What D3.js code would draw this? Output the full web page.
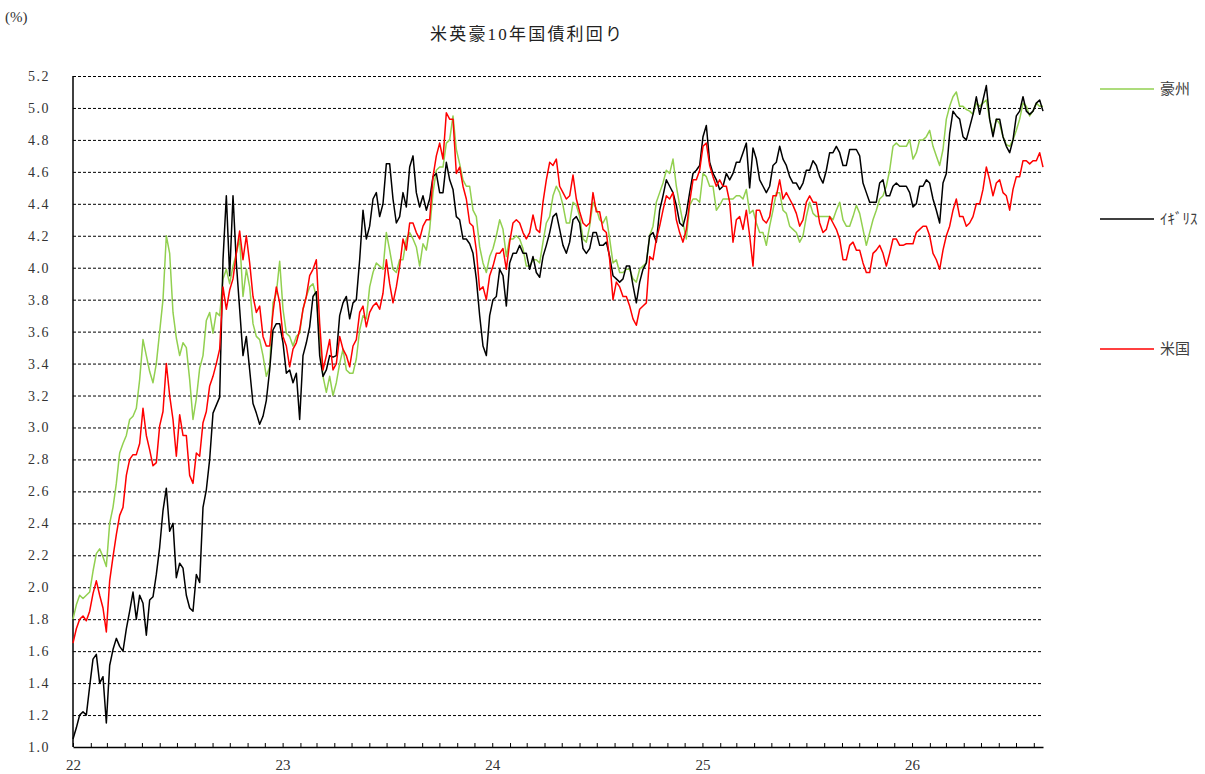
<html>
<head>
  <meta charset="utf-8">
  <script src="https://d3js.org/d3.v7.min.js"></script>
  <style>
    body { margin: 0; background: #fff; }
    text { font-family: "Liberation Serif", "Noto Sans CJK JP", serif; }
  </style>
  <script>
    // sampled about every 5.8 days, 2022-01-01 .. 2026-08-17
    var auYield = [
      1.80,1.89,1.95,1.93,1.95,1.97,2.10,2.21,2.24,2.19, 2.13,2.40,2.50,2.65,2.84,2.90,2.95,3.05,3.07,3.12,
      3.30,3.55,3.45,3.35,3.28,3.40,3.60,3.80,4.20,4.09, 3.72,3.56,3.45,3.53,3.50,3.30,3.05,3.18,3.37,3.45,
      3.67,
      3.72,3.59,3.72,3.70,3.93,3.99,3.90,4.01,4.09,4.18, 3.82,3.99,3.88,3.65,3.57,3.55,3.45,3.32,3.38,3.78,
      3.84,4.04,3.74,3.59,3.57,3.51,3.57,3.59,3.74,3.82, 3.88,3.90,3.82,3.57,3.32,3.22,3.32,3.20,3.28,3.40,
      3.49,3.36,
      3.34,3.34,3.43,3.61,3.70,3.68,3.88,3.97,4.03,4.01, 3.99,4.22,4.11,3.99,3.97,4.05,4.05,4.18,4.22,4.18,
      4.13,4.01,4.15,4.11,4.24,4.47,4.61,4.63,4.63,4.78, 4.80,4.95,4.74,4.65,4.55,4.51,4.51,4.36,4.32,4.13,
      4.03,3.97,
      4.07,4.12,4.20,4.30,4.24,4.07,4.18,4.18,4.20,4.18, 4.12,4.01,4.01,4.05,4.05,4.03,4.16,4.28,4.32,4.45,
      4.51,4.47,4.39,4.28,4.28,4.41,4.39,4.32,4.18,4.16, 4.26,4.41,4.37,4.30,4.28,4.32,4.18,4.03,4.05,3.97,
      3.97,3.99,
      3.99,3.93,3.91,3.99,4.01,4.03,4.20,4.26,4.41,4.47, 4.53,4.61,4.59,4.68,4.51,4.39,4.28,4.18,4.39,4.43,
      4.43,4.41,4.59,4.57,4.51,4.51,4.36,4.39,4.43,4.43, 4.43,4.43,4.45,4.45,4.43,4.49,4.34,4.36,4.28,4.22,
      4.22,4.14,
      4.26,4.36,4.47,4.47,4.36,4.34,4.26,4.24,4.22,4.16, 4.20,4.32,4.41,4.34,4.32,4.32,4.32,4.32,4.32,4.30,
      4.36,4.41,4.30,4.26,4.26,4.32,4.39,4.34,4.24,4.14, 4.22,4.30,4.36,4.43,4.45,4.51,4.61,4.76,4.78,4.76,
      4.76,
      4.76,4.80,4.68,4.72,4.80,4.80,4.82,4.86,4.76,4.70, 4.64,4.74,4.93,5.01,5.07,5.10,5.01,5.01,4.99,4.98,
      4.96,5.03,5.01,5.03,5.05,4.93,4.84,4.93,4.90,4.82, 4.77,4.76,4.80,4.86,4.93,5.03,5.01,4.95,4.98,5.03,
      5.01,5.01
    ];
    var ukYield = [
      1.05,1.12,1.20,1.22,1.20,1.38,1.55,1.58,1.40,1.44, 1.15,1.51,1.61,1.68,1.63,1.60,1.74,1.85,1.97,1.80,
      1.95,1.90,1.70,1.92,1.94,2.08,2.25,2.48,2.62,2.35, 2.40,2.06,2.15,2.12,1.95,1.87,1.85,2.08,2.03,2.50,
      2.61,
      2.80,3.09,3.14,3.19,4.05,4.45,3.95,4.45,4.03,3.74, 3.45,3.57,3.36,3.15,3.09,3.02,3.07,3.17,3.36,3.61,
      3.65,3.65,3.53,3.34,3.36,3.28,3.34,3.05,3.45,3.53, 3.63,3.82,3.85,3.45,3.32,3.36,3.45,3.44,3.45,3.70,
      3.78,3.82,
      3.68,3.78,3.80,4.05,4.36,4.18,4.26,4.43,4.47,4.32, 4.40,4.65,4.65,4.43,4.28,4.32,4.47,4.38,4.63,4.70,
      4.47,4.38,4.45,4.36,4.43,4.57,4.59,4.47,4.47,4.66, 4.55,4.49,4.32,4.30,4.18,4.18,4.15,4.09,3.93,3.70,
      3.51,3.45,
      3.70,3.80,3.82,3.99,3.95,3.76,4.03,4.09,4.09,4.14, 4.09,4.09,3.99,4.07,3.97,3.94,4.07,4.14,4.22,4.32,
      4.34,4.24,4.14,4.09,4.16,4.30,4.32,4.28,4.12,4.09, 4.12,4.22,4.22,4.14,4.14,4.16,4.07,3.95,3.93,3.91,
      3.93,4.01,
      4.01,3.89,3.78,3.91,3.99,4.03,4.20,4.22,4.16,4.36, 4.45,4.55,4.51,4.47,4.39,4.28,4.26,4.34,4.47,4.59,
      4.61,4.64,4.82,4.89,4.66,4.59,4.55,4.49,4.51,4.59, 4.55,4.59,4.66,4.66,4.72,4.78,4.50,4.75,4.68,4.55,
      4.51,4.47,
      4.51,4.64,4.66,4.76,4.68,4.64,4.57,4.53,4.53,4.49, 4.53,4.61,4.61,4.67,4.64,4.57,4.53,4.61,4.72,4.72,
      4.76,4.72,4.64,4.64,4.74,4.74,4.74,4.70,4.53,4.47, 4.41,4.41,4.41,4.53,4.55,4.45,4.45,4.51,4.53,4.51,
      4.51,
      4.51,4.47,4.38,4.40,4.51,4.51,4.55,4.53,4.43,4.36, 4.28,4.53,4.59,4.84,4.98,4.95,4.93,4.82,4.80,4.88,
      4.96,5.07,4.96,5.05,5.14,4.93,4.82,4.93,4.93,4.82, 4.76,4.72,4.80,4.95,4.98,5.07,4.98,4.96,4.98,5.03,
      5.05,4.98
    ];
    var usYield = [
      1.65,1.74,1.80,1.82,1.79,1.85,1.96,2.04,1.95,1.87, 1.72,2.04,2.19,2.33,2.45,2.50,2.70,2.80,2.83,2.83,
      2.90,3.12,2.95,2.86,2.76,2.78,3.01,3.10,3.40,3.20, 3.05,2.82,3.08,2.95,2.95,2.70,2.65,2.84,2.82,3.03,
      3.10,
      3.26,3.32,3.40,3.49,3.88,3.74,3.86,3.93,4.09,4.23, 4.05,4.20,4.03,3.82,3.72,3.76,3.57,3.51,3.51,3.72,
      3.88,3.78,3.57,3.51,3.38,3.49,3.53,3.61,3.74,3.82, 3.95,3.99,4.05,3.65,3.36,3.45,3.55,3.36,3.40,3.57,
      3.49,3.45,
      3.38,3.51,3.55,3.72,3.76,3.63,3.72,3.76,3.78,3.74, 3.84,4.05,3.90,3.78,3.88,4.01,4.18,4.11,4.28,4.28,
      4.22,4.18,4.26,4.30,4.30,4.57,4.70,4.78,4.68,4.97, 4.93,4.93,4.59,4.63,4.51,4.43,4.28,4.26,4.11,3.86,
      3.88,3.80,
      3.95,4.01,4.09,4.09,4.12,3.99,4.16,4.28,4.30,4.28, 4.22,4.18,4.22,4.33,4.24,4.22,4.41,4.55,4.66,4.64,
      4.68,4.51,4.47,4.43,4.45,4.58,4.43,4.35,4.28,4.26, 4.28,4.47,4.35,4.35,4.24,4.22,4.05,3.80,3.91,3.88,
      3.82,3.82,
      3.76,3.68,3.64,3.74,3.76,3.78,4.07,4.05,4.18,4.26, 4.36,4.45,4.43,4.47,4.30,4.22,4.16,4.24,4.41,4.55,
      4.55,4.61,4.76,4.78,4.64,4.57,4.51,4.55,4.51,4.51, 4.41,4.16,4.30,4.32,4.24,4.36,4.20,4.01,4.36,4.36,
      4.30,4.28,
      4.32,4.45,4.45,4.55,4.43,4.47,4.43,4.39,4.34,4.26, 4.30,4.41,4.45,4.41,4.41,4.28,4.22,4.24,4.32,4.28,
      4.24,4.18,4.05,4.05,4.14,4.16,4.11,4.11,4.03,3.97, 3.97,4.09,4.11,4.14,4.09,4.01,4.09,4.18,4.18,4.14,
      4.14,
      4.15,4.15,4.15,4.22,4.24,4.26,4.26,4.20,4.09,4.05, 3.99,4.11,4.20,4.26,4.36,4.43,4.32,4.32,4.26,4.28,
      4.32,4.40,4.40,4.49,4.63,4.55,4.45,4.53,4.55,4.47, 4.45,4.36,4.49,4.57,4.57,4.67,4.67,4.65,4.67,4.67,
      4.72,4.63
    ];
    var seriesNames = ["豪州", "ｲｷﾞﾘｽ", "米国"];
    var seriesColors = ["#92d050", "#000000", "#ff0000"];
    var yTicks = d3.range(10, 53, 2).map(function (d) { return d / 10; });

    function drawChart() {
      var t0 = new Date(2022, 0, 1), tEnd = new Date(2026, 7, 17);
      var n = auYield.length;
      var dates = d3.range(n).map(function (i) { return new Date(+t0 + (tEnd - t0) * i / (n - 1)); });

      var svg = d3.select("#chart");
      var x = d3.scaleTime().domain([t0, tEnd]).range([73, 1043]);
      var y = d3.scaleLinear().domain([1.0, 5.2]).range([747, 76]);

      // grid + y labels
      var gy = svg.append("g").attr("transform", "translate(73,0)")
          .call(d3.axisLeft(y).tickValues(yTicks).tickSize(-970).tickPadding(23)
                .tickFormat(d3.format(".1f")));
      gy.select(".domain").remove();
      gy.selectAll(".tick line").attr("stroke", "#000").attr("stroke-dasharray", "3,2")
          .filter(function (d) { return d === 1.0; }).remove();
      gy.selectAll(".tick text").attr("font-size", 14).attr("fill", "#333")
          .attr("letter-spacing", "1.5px").attr("font-family", "Liberation Serif");

      svg.append("line").attr("x1", 73).attr("x2", 73).attr("y1", 76).attr("y2", 747)
          .attr("stroke", "#000").attr("stroke-width", 1.5);

      // x axis, monthly ticks inside
      var gx = svg.append("g").attr("transform", "translate(0,747)")
          .call(d3.axisBottom(x).ticks(d3.timeMonth.every(1)).tickSizeInner(-4).tickSizeOuter(0)
                .tickPadding(12)
                .tickFormat(function (d) { return d.getMonth() === 0 ? d3.timeFormat("%y")(d) : ""; }));
      gx.select(".domain").attr("stroke", "#000").attr("stroke-width", 1.5);
      gx.selectAll(".tick line").attr("stroke", "#000");
      gx.selectAll(".tick text").attr("font-size", 15).attr("fill", "#333")
          .attr("font-family", "Liberation Serif");

      // series
      var line = d3.line().x(function (d, i) { return x(dates[i]); }).y(function (d) { return y(d); });
      [auYield, ukYield, usYield].forEach(function (vals, k) {
        svg.append("path").datum(vals).attr("d", line).attr("fill", "none")
            .attr("stroke", seriesColors[k]).attr("stroke-width", 1.5)
            .attr("stroke-linejoin", "round");
      });

      // legend
      var lg = svg.append("g").selectAll("g").data(seriesNames).enter().append("g")
          .attr("transform", function (d, i) { return "translate(1100," + [89, 219, 349][i] + ")"; });
      lg.append("line").attr("x1", 0).attr("x2", 54)
          .attr("stroke", function (d, i) { return seriesColors[i]; }).attr("stroke-width", 1.5);
      lg.append("text").attr("x", 60).attr("y", 5).attr("font-size", 15).attr("fill", "#404040")
          .text(function (d) { return d; });

      svg.append("text").attr("x", 430).attr("y", 40).attr("font-size", 17).attr("fill", "#222")
          .attr("textLength", 192).attr("lengthAdjust", "spacing").text("米英豪10年国債利回り");
      svg.append("text").attr("x", 5).attr("y", 22).attr("font-size", 15).attr("fill", "#333")
          .text("(%)");
    }
  </script>
</head>
<body onload="drawChart()">
  <svg id="chart" width="1205" height="774"></svg>
</body>
</html>
